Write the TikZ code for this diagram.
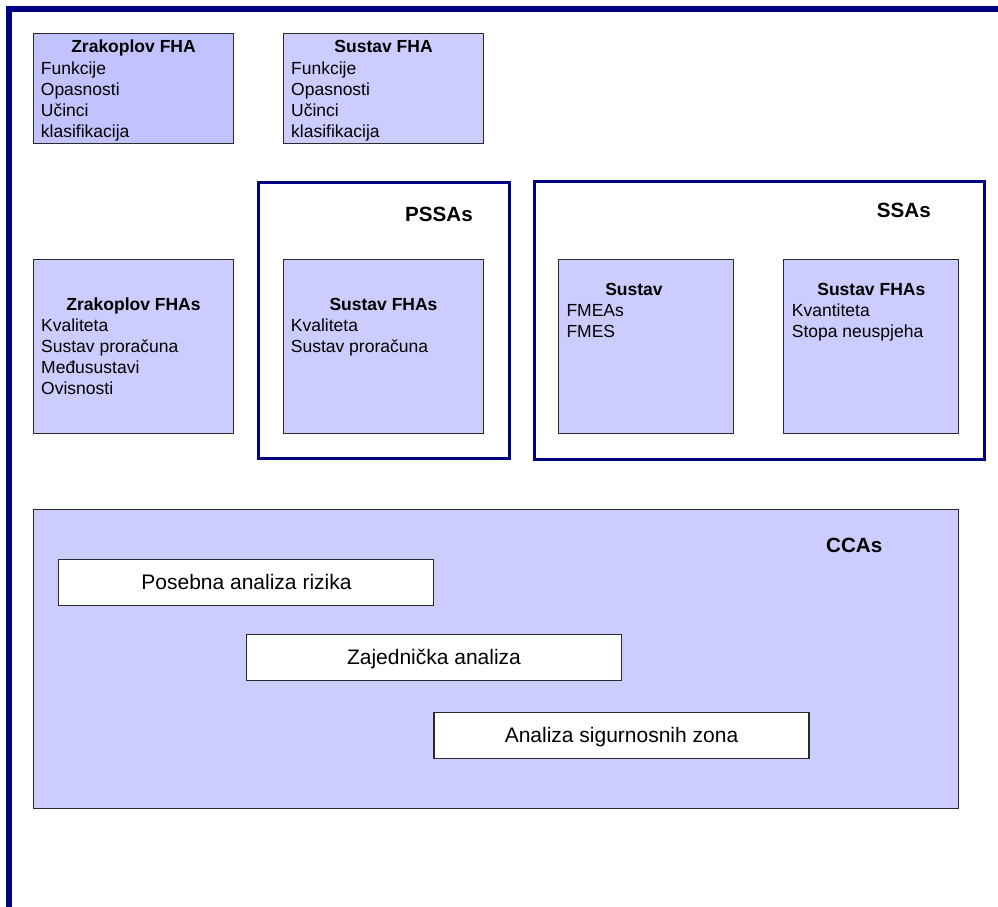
\documentclass[tikz,border=0pt]{standalone}
\usepackage{fontspec}
\setmainfont{Liberation Sans}
\definecolor{navy}{HTML}{000080}
\definecolor{lav}{HTML}{CCCCFF}
\definecolor{lavd}{HTML}{C2C2FF}
\definecolor{edgec}{HTML}{2A2A2A}
\tikzset{
  box/.style={draw=edgec, line width=1.3pt, fill=lav, inner sep=0pt, outer sep=0pt, anchor=north west},
  grp/.style={draw=navy, line width=3pt, inner sep=0pt, outer sep=0pt, anchor=north west},
  wbox/.style={draw=edgec, line width=1.3pt, fill=white, inner sep=0pt, outer sep=0pt, anchor=north west},
  ttl/.style={font=\bfseries\fontsize{17.5}{21}\selectfont, anchor=base, inner sep=0pt},
  itm/.style={font=\fontsize{17.5}{21}\selectfont, anchor=base west, inner sep=0pt},
  hdr/.style={font=\bfseries\fontsize{20.6}{24}\selectfont, anchor=base west, inner sep=0pt},
  lbl/.style={font=\fontsize{21}{25}\selectfont, anchor=base, inner sep=0pt},
}
\begin{document}
\begin{tikzpicture}[x=1pt,y=-1pt]
\useasboundingbox (0,0) rectangle (998,906);
% outer frame (cropped)
\draw[navy, line width=5.5pt, line join=miter] (9,910) -- (9,9) -- (1002,9);

% Zrakoplov FHA
\node[box, fill=lavd, minimum width=200pt, minimum height=110pt] (zfha) at (33.5,33.5) {};
\node[ttl] (zfhaT) at (133.5,52.7) {Zrakoplov FHA};
\node[itm] (zfha1) at (40.7,74) {Funkcije};
\node[itm] (zfha2) at (40.7,95.2) {Opasnosti};
\node[itm] (zfha3) at (40.7,116.4) {Učinci};
\node[itm] (zfha4) at (40.7,137.6) {klasifikacija};

% Sustav FHA
\node[box, minimum width=200pt, minimum height=110pt] (sfha) at (283.5,33.5) {};
\node[ttl] (sfhaT) at (383.6,52.7) {Sustav FHA};
\node[itm] (sfha1) at (291,74) {Funkcije};
\node[itm] (sfha2) at (291,95.2) {Opasnosti};
\node[itm] (sfha3) at (291,116.4) {Učinci};
\node[itm] (sfha4) at (291,137.6) {klasifikacija};

% PSSAs group
\node[grp, minimum width=251pt, minimum height=276pt] (pssa) at (258.5,182.5) {};
\node[hdr] (pssaT) at (405,221.7) {PSSAs};

% SSAs group
\node[grp, minimum width=450pt, minimum height=278pt] (ssa) at (534.5,181.5) {};
\node[hdr] (ssaT) at (876.7,217.3) {SSAs};

% Zrakoplov FHAs
\node[box, minimum width=200pt, minimum height=174pt] (zfhas) at (33.5,259.5) {};
\node[ttl] (zfhasT) at (133.5,310) {Zrakoplov FHAs};
\node[itm] (zfhas1) at (41,331.2) {Kvaliteta};
\node[itm] (zfhas2) at (41,352.4) {Sustav proračuna};
\node[itm] (zfhas3) at (41,373.6) {Međusustavi};
\node[itm] (zfhas4) at (41,394.8) {Ovisnosti};

% Sustav FHAs (PSSAs)
\node[box, minimum width=200pt, minimum height=174pt] (psfhas) at (283.5,259.5) {};
\node[ttl] (psfhasT) at (383.5,310) {Sustav FHAs};
\node[itm] (psfhas1) at (290.7,331.2) {Kvaliteta};
\node[itm] (psfhas2) at (290.7,352.4) {Sustav proračuna};

% Sustav (SSAs)
\node[box, minimum width=175pt, minimum height=174pt] (ssus) at (558.5,259.5) {};
\node[ttl] (ssusT) at (634,295) {Sustav};
\node[itm] (ssus1) at (566.3,316.2) {FMEAs};
\node[itm] (ssus2) at (566.3,337.4) {FMES};

% Sustav FHAs (SSAs)
\node[box, minimum width=175pt, minimum height=174pt] (ssfhas) at (783.5,259.5) {};
\node[ttl] (ssfhasT) at (871.3,295) {Sustav FHAs};
\node[itm] (ssfhas1) at (791.7,316.2) {Kvantiteta};
\node[itm] (ssfhas2) at (791.7,337.4) {Stopa neuspjeha};

% CCAs
\node[box, minimum width=925pt, minimum height=299pt] (cca) at (33.5,509.5) {};
\node[hdr] (ccaT) at (826,552.3) {CCAs};
\node[wbox, minimum width=375pt, minimum height=46pt] (pos) at (58.5,559.5) {};
\node[lbl] (posT) at (246.5,589.3) {Posebna analiza rizika};
\node[wbox, minimum width=375pt, minimum height=46pt] (zaj) at (246.5,634.5) {};
\node[lbl] (zajT) at (434,664) {Zajednička analiza};
\node[wbox, minimum width=375pt, minimum height=46pt] (asz) at (434,712.5) {};
\node[lbl] (aszT) at (621.5,742.5) {Analiza sigurnosnih zona};
\end{tikzpicture}
\end{document}
